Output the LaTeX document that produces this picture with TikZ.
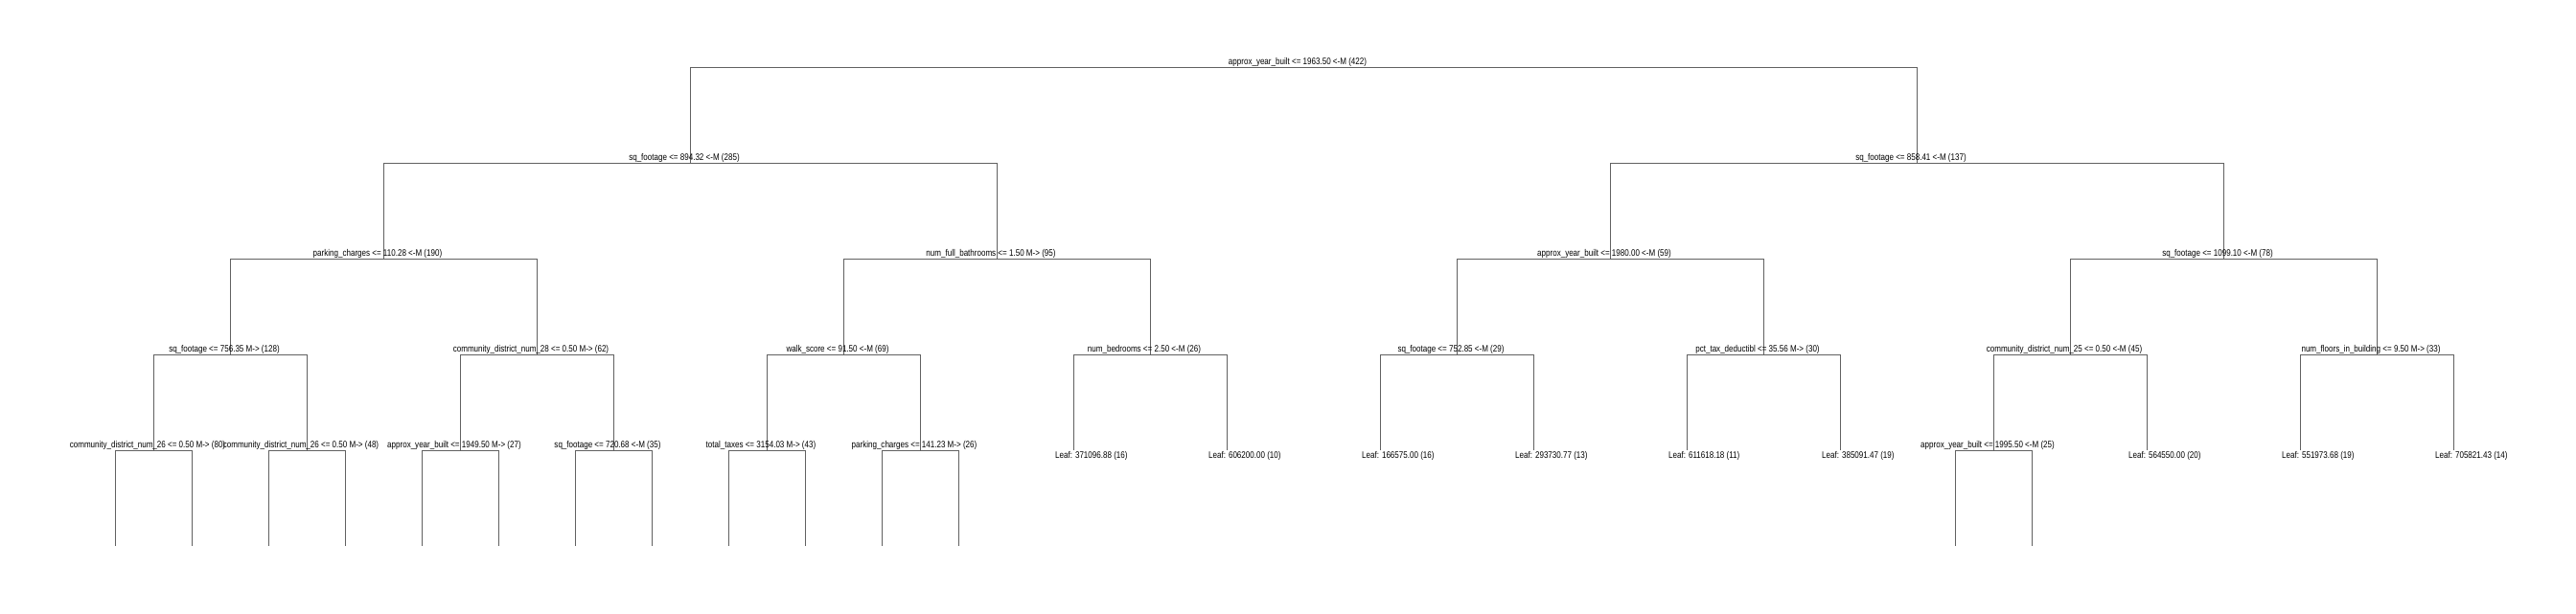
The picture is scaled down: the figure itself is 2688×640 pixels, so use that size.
\documentclass[tikz,border=0pt]{standalone}
\usepackage{fontspec}
\setmainfont{Liberation Sans}[FakeStretch=0.82]
\begin{document}
\begin{tikzpicture}[x=1pt,y=-1pt,
  edge/.style={draw=black!62, line width=1pt},
  lbl/.style={font=\fontsize{9.8}{10}\selectfont, inner sep=0pt, anchor=base},
  leaflbl/.style={lbl, anchor=base west}]
\useasboundingbox (0,0) rectangle (2688,640);
% level 1
\coordinate (r) at (1360,70);
% level 2
\coordinate (a) at (720,170);
\coordinate (b) at (2000,170);
% level 3
\coordinate (aa) at (400,270);
\coordinate (ab) at (1040,270);
\coordinate (ba) at (1680,270);
\coordinate (bb) at (2320,270);
% level 4
\coordinate (aaa) at (240,370);
\coordinate (aab) at (560,370);
\coordinate (aba) at (880,370);
\coordinate (abb) at (1200,370);
\coordinate (baa) at (1520,370);
\coordinate (bab) at (1840,370);
\coordinate (bba) at (2160,370);
\coordinate (bbb) at (2480,370);
% level 5
\coordinate (aaaa) at (160,470);
\coordinate (aaab) at (320,470);
\coordinate (aaba) at (480,470);
\coordinate (aabb) at (640,470);
\coordinate (abaa) at (800,470);
\coordinate (abab) at (960,470);
\coordinate (abba) at (1120,470);
\coordinate (abbb) at (1280,470);
\coordinate (baaa) at (1440,470);
\coordinate (baab) at (1600,470);
\coordinate (baba) at (1760,470);
\coordinate (babb) at (1920,470);
\coordinate (bbaa) at (2080,470);
\coordinate (bbab) at (2240,470);
\coordinate (bbba) at (2400,470);
\coordinate (bbbb) at (2560,470);
% level 6 (open ends)
\coordinate (e1) at (120,570);
\coordinate (e2) at (200,570);
\coordinate (e3) at (280,570);
\coordinate (e4) at (360,570);
\coordinate (e5) at (440,570);
\coordinate (e6) at (520,570);
\coordinate (e7) at (600,570);
\coordinate (e8) at (680,570);
\coordinate (e9) at (760,570);
\coordinate (e10) at (840,570);
\coordinate (e11) at (920,570);
\coordinate (e12) at (1000,570);
\coordinate (e13) at (2040,570);
\coordinate (e14) at (2120,570);

% connectors
\foreach \p/\c in {r/a,r/b,a/aa,a/ab,b/ba,b/bb,
  aa/aaa,aa/aab,ab/aba,ab/abb,ba/baa,ba/bab,bb/bba,bb/bbb,
  aaa/aaaa,aaa/aaab,aab/aaba,aab/aabb,aba/abaa,aba/abab,abb/abba,abb/abbb,
  baa/baaa,baa/baab,bab/baba,bab/babb,bba/bbaa,bba/bbab,bbb/bbba,bbb/bbbb,
  aaaa/e1,aaaa/e2,aaab/e3,aaab/e4,aaba/e5,aaba/e6,aabb/e7,aabb/e8,
  abaa/e9,abaa/e10,abab/e11,abab/e12,bbaa/e13,bbaa/e14}
  \draw[edge] (\p) -| (\c);

% split labels
\node[lbl] (tr) at (1354,67) {approx\_year\_built <= 1963.50 <-M (422)};
\node[lbl] (ta) at (714,167) {sq\_footage <= 894.32 <-M (285)};
\node[lbl] (tb) at (1994,167) {sq\_footage <= 858.41 <-M (137)};
\node[lbl] (taa) at (394,267) {parking\_charges <= 110.28 <-M (190)};
\node[lbl] (tab) at (1034,267) {num\_full\_bathrooms <= 1.50 M-> (95)};
\node[lbl] (tba) at (1674,267) {approx\_year\_built <= 1980.00 <-M (59)};
\node[lbl] (tbb) at (2314,267) {sq\_footage <= 1099.10 <-M (78)};
\node[lbl] (taaa) at (234,367) {sq\_footage <= 756.35 M-> (128)};
\node[lbl] (taab) at (554,367) {community\_district\_num\_28 <= 0.50 M-> (62)};
\node[lbl] (taba) at (874,367) {walk\_score <= 91.50 <-M (69)};
\node[lbl] (tabb) at (1194,367) {num\_bedrooms <= 2.50 <-M (26)};
\node[lbl] (tbaa) at (1514,367) {sq\_footage <= 752.85 <-M (29)};
\node[lbl] (tbab) at (1834,367) {pct\_tax\_deductibl <= 35.56 M-> (30)};
\node[lbl] (tbba) at (2154,367) {community\_district\_num\_25 <= 0.50 <-M (45)};
\node[lbl] (tbbb) at (2474,367) {num\_floors\_in\_building <= 9.50 M-> (33)};
\node[lbl] (taaaa) at (154,467) {community\_district\_num\_26 <= 0.50 M-> (80)};
\node[lbl] (taaab) at (314,467) {community\_district\_num\_26 <= 0.50 M-> (48)};
\node[lbl] (taaba) at (474,467) {approx\_year\_built <= 1949.50 M-> (27)};
\node[lbl] (taabb) at (634,467) {sq\_footage <= 720.68 <-M (35)};
\node[lbl] (tabaa) at (794,467) {total\_taxes <= 3154.03 M-> (43)};
\node[lbl] (tabab) at (954,467) {parking\_charges <= 141.23 M-> (26)};
\node[lbl] (tbbaa) at (2074,467) {approx\_year\_built <= 1995.50 <-M (25)};

% leaf labels
\node[leaflbl] (tabba) at (1101,478.5) {Leaf: 371096.88 (16)};
\node[leaflbl] (tabbb) at (1261,478.5) {Leaf: 606200.00 (10)};
\node[leaflbl] (tbaaa) at (1421,478.5) {Leaf: 166575.00 (16)};
\node[leaflbl] (tbaab) at (1581,478.5) {Leaf: 293730.77 (13)};
\node[leaflbl] (tbaba) at (1741,478.5) {Leaf: 611618.18 (11)};
\node[leaflbl] (tbabb) at (1901,478.5) {Leaf: 385091.47 (19)};
\node[leaflbl] (tbbab) at (2221,478.5) {Leaf: 564550.00 (20)};
\node[leaflbl] (tbbba) at (2381,478.5) {Leaf: 551973.68 (19)};
\node[leaflbl] (tbbbb) at (2541,478.5) {Leaf: 705821.43 (14)};
\end{tikzpicture}
\end{document}
